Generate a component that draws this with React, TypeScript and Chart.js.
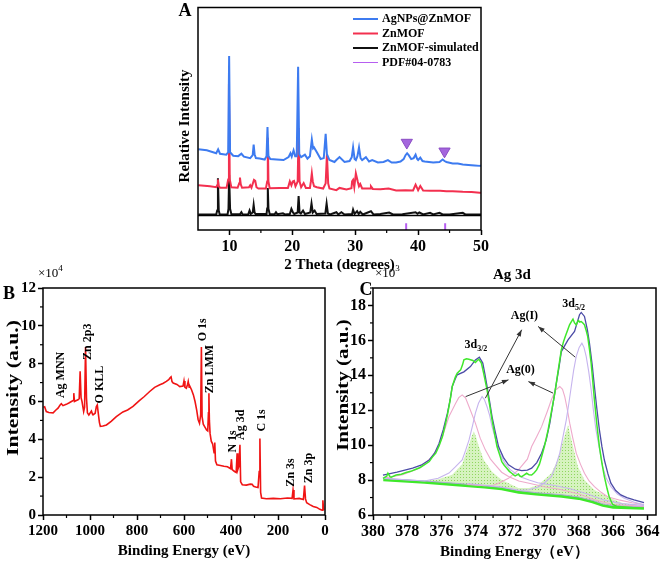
import React, { useEffect, useRef } from 'react';
import { Chart, registerables } from 'chart.js';

Chart.register(...registerables);

const SERIF = "'Liberation Serif', 'Times New Roman', serif";
type P = [number, number];

// ---------------- Panel A : XRD ----------------
const xrdTicks = [10, 20, 30, 40, 50];
const xrdMinorTicks = [15, 25, 35, 45];
const xrdLabels = ['AgNPs@ZnMOF', 'ZnMOF', 'ZnMOF-simulated', 'PDF#04-0783'];
const agZnMof: P[] = [
  [5.05, 83], [6.4, 82], [7.9, 79], [8.2, 83], [8.5, 78.5], [9.5, 77.5], [9.8, 80], [9.95, 179], [10.1, 80],
  [10.6, 76.5], [11.4, 76], [11.9, 78.5], [12.3, 75.5], [13.3, 74], [13.7, 77], [13.85, 88], [14.0, 78],
  [14.2, 74], [14.8, 73.5], [15.6, 72.5], [15.9, 76], [16.05, 106], [16.2, 76], [16.5, 73], [17.5, 72.5],
  [18.6, 72], [19.4, 75], [19.7, 79], [19.9, 75.5], [20.2, 82], [20.45, 76], [20.7, 76], [20.92, 168],
  [21.1, 78], [21.4, 75], [22.0, 77.5], [22.4, 73.5], [22.8, 76], [23.1, 93], [23.3, 84], [23.45, 85],
  [23.9, 80], [24.5, 73], [25.0, 74], [25.3, 99], [25.5, 78], [25.9, 72], [26.7, 70], [27.0, 72], [27.5, 75],
  [28.3, 70], [29.1, 71], [29.45, 75], [29.66, 85], [29.9, 73], [30.1, 72], [30.35, 76], [30.6, 85],
  [30.85, 74], [31.1, 72], [31.7, 75], [32.2, 70.5], [32.7, 72], [33.6, 69.5], [34.5, 70], [35.2, 72],
  [35.8, 69.5], [36.5, 69.5], [37.2, 70.5], [37.7, 73], [38.0, 77], [38.25, 79], [38.5, 77], [38.9, 73],
  [39.3, 74], [39.6, 77.5], [39.85, 73], [40.0, 72], [40.35, 74.5], [40.7, 71], [41.05, 70.5], [42.4, 69.5],
  [43.4, 70], [43.9, 72.5], [44.2, 71], [44.5, 70], [45.5, 68.5], [46.3, 68.5], [47.1, 67.5], [48.0, 67],
  [49.0, 66.5], [49.8, 66], [50, 66],
];
const znMof: P[] = [
  [5.05, 46], [6.0, 45.5], [6.9, 45], [7.9, 44], [8.05, 46], [8.17, 52], [8.3, 45], [8.5, 43.5], [9.55, 43.5],
  [9.8, 52], [9.92, 150], [10.05, 52], [10.3, 44], [11.3, 43.5], [11.55, 48], [11.67, 54], [11.8, 47],
  [12.0, 43.5], [13.1, 44], [13.3, 46], [13.5, 43.5], [13.9, 51.5], [14.1, 50.5], [14.3, 44], [14.6, 42.7],
  [15.8, 42.7], [16.0, 50], [16.1, 95], [16.2, 50], [16.4, 43], [18.0, 43.3], [19.3, 43.3], [19.6, 50],
  [19.85, 46], [20.06, 50], [20.27, 50.5], [20.5, 45], [20.85, 50], [21.0, 105], [21.15, 50], [21.4, 44],
  [21.8, 48.3], [22.15, 43.3], [22.8, 43.3], [22.95, 50], [23.1, 58.3], [23.25, 50], [23.45, 45], [23.9, 44],
  [24.9, 42.7], [25.3, 48], [25.5, 78], [25.7, 48], [25.9, 42.7], [27.0, 41], [27.5, 43.3], [28.6, 41.7],
  [29.4, 43], [29.5, 50], [29.66, 51.5], [29.85, 44], [30.1, 58.3], [30.4, 50], [30.6, 45], [30.8, 47.3],
  [31.1, 42.7], [32.4, 42.7], [32.5, 45], [32.8, 42.3], [34.0, 42], [35.3, 42.7], [36.5, 40.7], [38.0, 41],
  [39.2, 40.7], [39.6, 46.7], [40.0, 41], [40.35, 45.3], [40.8, 40.7], [42.0, 40.5], [43.5, 40.5], [44.5, 40],
  [45.5, 40], [47.1, 39.3], [48.5, 39], [49.8, 38.3], [50, 38.3],
];
const znMofSimulated: P[] = [
  [5.05, 16], [7.9, 16], [8.05, 20], [8.17, 53.3], [8.3, 20], [8.45, 16], [9.7, 16], [9.85, 22], [9.95, 56.7],
  [10.1, 22], [10.3, 16.5], [11.7, 16.3], [11.9, 18.3], [12.1, 16], [13.0, 16.3], [13.2, 20], [13.4, 16.5],
  [13.7, 18], [13.85, 26], [14.0, 18], [14.15, 16.5], [15.9, 16.5], [16.0, 22], [16.1, 43.3], [16.2, 22],
  [16.4, 16.5], [17.2, 16.3], [17.4, 18.3], [17.6, 16.3], [18.5, 17.3], [18.8, 16], [19.6, 16.5],
  [19.85, 21.7], [20.1, 18], [20.3, 16.5], [20.85, 18], [21.0, 35], [21.15, 18], [21.35, 17], [21.7, 20],
  [22.0, 16.5], [22.85, 18], [23.05, 27.3], [23.25, 18], [23.55, 20], [23.85, 16.5], [25.25, 17],
  [25.45, 27.3], [25.65, 17], [26.0, 16], [27.0, 18.3], [27.3, 16], [27.8, 18.3], [28.3, 16], [29.5, 16.5],
  [29.66, 21], [29.9, 16.5], [30.3, 19.3], [30.55, 16.5], [30.8, 18.7], [31.2, 16], [32.5, 19.3], [32.9, 16],
  [34.0, 16.5], [35.4, 18], [36.0, 16], [37.5, 16.3], [39.6, 18.3], [39.9, 16.8], [40.2, 18], [40.8, 16],
  [41.9, 17.7], [42.4, 16], [43.4, 17.7], [43.9, 16], [45.0, 16], [47.1, 17.7], [47.5, 16], [49.8, 16], [50, 16],
];
const pdfPeaks = [38.1, 44.3];
const pdfHeight = 7;
const agMarkers: P[] = [[38.2, 90], [44.2, 81]];
const stackDivider = 15;

// ---------------- Panel B : XPS survey ----------------
const surveyXTicks = [0, 200, 400, 600, 800, 1000, 1200];
const surveyXMinor = [100, 300, 500, 700, 900, 1100];
const surveyYTicks = [0, 2, 4, 6, 8, 10, 12];
const surveyYMinor = [1, 3, 5, 7, 9, 11];
const survey: P[] = [
  [1198, 5.7], [1193, 5.72], [1186, 5.47], [1175, 5.42], [1157, 5.4], [1145, 5.55], [1136, 5.65], [1128, 5.8],
  [1122, 5.88], [1115, 5.78], [1101, 5.85], [1090, 5.92], [1079, 6.0], [1072, 6.05], [1069, 6.44], [1066, 6.0],
  [1058, 6.05], [1051, 6.09], [1046, 6.15], [1042, 7.6], [1038, 6.2], [1034, 6.0], [1027, 5.47], [1023, 5.7],
  [1019, 8.88], [1015, 6.2], [1011, 5.4], [1005, 5.29], [994, 5.5], [990, 5.35], [987, 5.29], [978, 5.38],
  [973, 5.74], [969, 5.82], [965, 5.4], [960, 4.9], [956, 4.68], [945, 4.7], [930, 4.76], [910, 4.95],
  [888, 5.2], [860, 5.45], [840, 5.55], [817, 5.74], [790, 6.05], [770, 6.25], [746, 6.53], [725, 6.75],
  [703, 6.88], [690, 6.95], [675, 7.06], [665, 7.15], [660, 7.24], [655, 7.3], [651, 7.05], [646, 6.98],
  [630, 6.9], [618, 6.79], [604, 6.82], [600, 7.09], [596, 6.75], [590, 6.7], [585, 6.9], [582, 7.06],
  [578, 6.75], [575, 6.8], [568, 6.62], [560, 6.35], [553, 6.0], [546, 5.55], [540, 5.05], [534, 4.85],
  [529, 5.3], [526, 8.88], [523, 5.2], [518, 4.8], [511, 4.65], [504, 4.5], [499, 4.45], [496, 5.4],
  [494, 6.44], [492, 5.0], [489, 4.3], [484, 3.9], [478, 3.75], [472, 3.3], [469, 3.83], [466, 2.85],
  [460, 2.65], [445, 2.62], [430, 2.58], [415, 2.55], [402, 2.45], [398, 2.95], [395, 2.4], [385, 2.3],
  [378, 2.25], [374, 3.26], [371, 2.4], [366, 2.6], [362, 3.71], [359, 1.75], [352, 1.6], [335, 1.58],
  [318, 1.63], [310, 1.62], [304, 1.52], [295, 1.48], [285, 1.45], [280, 2.3], [277, 4.05], [274, 1.2],
  [270, 0.9], [250, 0.86], [220, 0.88], [190, 0.86], [160, 0.9], [140, 0.88], [136, 1.32], [132, 0.85],
  [110, 0.88], [92, 0.82], [87, 1.55], [83, 0.85], [78, 0.65], [65, 0.55], [50, 0.45], [35, 0.4],
  [22, 0.3], [12, 0.25], [9, 0.78], [6, 0.3], [3, 0.32],
];
const surveyPeakNames = ['Ag MNN', 'Zn 2p3', 'O KLL', 'O 1s', 'Zn LMM', 'N 1s', 'Ag 3d', 'C 1s', 'Zn 3s', 'Zn 3p'];

// ---------------- Panel C : Ag 3d ----------------
const ag3dXTicks = [364, 366, 368, 370, 372, 374, 376, 378, 380];
const ag3dXMinor = [365, 367, 369, 371, 373, 375, 377, 379];
const ag3dYTicks = [6, 8, 10, 12, 14, 16, 18];
const ag3dYMinor = [7, 9, 11, 13, 15, 17, 19];
const ag3dEnvelope: P[] = [
  [379.42, 8.29], [378.6, 8.45], [377.69, 8.68], [377.2, 8.85], [376.72, 9.15], [376.4, 9.55], [376.15, 10.1],
  [375.9, 10.9], [375.66, 11.83], [375.5, 12.6], [375.38, 13.36], [375.2, 13.8], [375.09, 14.03], [374.7, 14.2],
  [374.32, 14.5], [374.03, 14.88], [373.8, 15.04], [373.6, 14.7], [373.48, 14.1], [373.35, 13.36], [373.2, 12.5],
  [373.06, 11.64], [372.87, 10.75], [372.68, 9.92], [372.4, 9.3], [372.1, 8.87], [371.7, 8.62], [371.33, 8.54],
  [371.0, 8.57], [370.75, 8.68], [370.45, 9.0], [370.17, 9.54], [369.9, 10.3], [369.69, 11.26], [369.5, 12.4],
  [369.31, 13.55], [369.15, 14.5], [369.02, 15.36], [368.63, 16.03], [368.25, 16.51], [368.1, 17.0],
  [367.96, 17.47], [367.86, 17.6], [367.67, 17.37], [367.5, 16.6], [367.38, 15.84], [367.22, 14.6],
  [367.09, 13.36], [366.95, 12.1], [366.8, 10.87], [366.65, 9.9], [366.51, 9.15], [366.3, 8.35], [366.13, 7.82],
  [365.85, 7.4], [365.55, 7.15], [365.2, 7.0], [364.78, 6.86], [364.2, 6.71],
];
const ag3dRaw: P[] = [
  [379.42, 8.1], [379.2, 8.22], [379.13, 8.39], [379.0, 8.18], [378.94, 8.16], [378.65, 8.29], [378.35, 8.33],
  [378.07, 8.43], [377.8, 8.5], [377.5, 8.62], [377.25, 8.72], [377.01, 8.87], [376.72, 9.06], [376.55, 9.3],
  [376.34, 9.54], [376.15, 9.95], [375.95, 10.49], [375.8, 11.1], [375.66, 11.73], [375.5, 12.6], [375.38, 13.36],
  [375.2, 13.9], [375.09, 14.12], [374.89, 14.31], [374.78, 14.6], [374.7, 14.89], [374.55, 14.95],
  [374.41, 14.92], [374.18, 14.85], [374.03, 14.73], [373.92, 14.85], [373.83, 14.92], [373.68, 14.7],
  [373.55, 14.12], [373.35, 13.17], [373.2, 12.3], [373.06, 11.45], [372.9, 10.6], [372.77, 9.92], [372.6, 9.4],
  [372.49, 9.06], [372.35, 8.85], [372.2, 8.68], [372.05, 8.5], [371.91, 8.39], [371.8, 8.3], [371.71, 8.24],
  [371.6, 8.3], [371.52, 8.35], [371.42, 8.22], [371.33, 8.2], [371.2, 8.28], [371.04, 8.39], [370.9, 8.3],
  [370.75, 8.29], [370.6, 8.42], [370.46, 8.58], [370.3, 8.9], [370.17, 9.34], [370.0, 9.95], [369.79, 10.87],
  [369.6, 11.9], [369.4, 12.97], [369.2, 14.3], [369.02, 15.46], [368.9, 15.9], [368.79, 16.22], [368.65, 16.6],
  [368.54, 16.89], [368.45, 17.05], [368.34, 17.22], [368.25, 17.0], [368.15, 16.89], [368.08, 17.05],
  [368.02, 17.14], [367.95, 17.05], [367.86, 17.08], [367.75, 16.98], [367.67, 16.89], [367.58, 16.6],
  [367.48, 16.22], [367.38, 15.5], [367.28, 14.69], [367.18, 13.6], [367.09, 12.59], [366.95, 11.2],
  [366.8, 9.92], [366.65, 8.95], [366.51, 8.2], [366.35, 7.5], [366.22, 7.01], [366.03, 6.6], [365.8, 6.5],
  [365.2, 6.45], [364.6, 6.4], [364.2, 6.38],
];
const ag0d32: P[] = [
  [379.4, 8.1], [378.27, 8.3], [377.3, 8.68], [376.53, 9.35], [376.2, 9.9], [375.95, 10.5], [375.57, 11.64],
  [375.18, 12.4], [375.0, 12.72], [374.8, 12.88], [374.6, 12.7], [374.4, 12.2], [374.03, 11.26], [373.75, 10.4],
  [373.45, 9.73], [373.15, 9.2], [372.87, 8.87], [372.5, 8.45], [372.1, 8.2], [371.5, 7.95], [370.9, 7.82],
  [370.0, 7.62], [369.0, 7.45], [368.0, 7.2], [367.0, 6.85], [366.0, 6.6], [364.2, 6.5],
];
const ag0d52: P[] = [
  [374.5, 7.75], [373.5, 7.68], [373.0, 7.7], [372.68, 7.82], [372.1, 8.1], [371.52, 8.58], [371.0, 9.2],
  [370.75, 9.92], [370.45, 10.5], [370.17, 11.06], [369.85, 11.9], [369.6, 12.6], [369.35, 13.15],
  [369.11, 13.36], [368.95, 13.2], [368.82, 12.78], [368.68, 12.1], [368.53, 11.26], [368.35, 10.4],
  [368.15, 9.54], [367.9, 8.9], [367.67, 8.39], [367.4, 7.95], [367.09, 7.62], [366.7, 7.3], [366.32, 7.05],
  [365.6, 6.85], [364.9, 6.7], [364.2, 6.6],
];
const agId32: P[] = [
  [379.4, 8.1], [377.0, 7.95], [376.2, 8.1], [375.57, 8.4], [375.2, 8.75], [374.8, 9.15], [374.6, 9.7],
  [374.4, 10.3], [374.2, 11.1], [374.03, 11.83], [373.85, 12.4], [373.64, 12.78], [373.5, 12.6], [373.35, 12.2],
  [373.2, 11.7], [373.06, 11.06], [372.87, 10.4], [372.68, 9.73], [372.5, 9.3], [372.3, 8.96], [372.0, 8.6],
  [371.7, 8.39], [371.3, 8.15], [370.9, 8.0], [370.4, 7.85], [369.5, 7.7], [368.5, 7.5], [367.5, 7.2],
  [366.5, 6.85], [365.5, 6.65], [364.2, 6.55],
];
const agId52: P[] = [
  [374.5, 7.8], [372.5, 7.6], [371.5, 7.42], [370.9, 7.45], [370.37, 7.6], [370.0, 7.85], [369.6, 8.2],
  [369.35, 8.8], [369.11, 9.54], [368.92, 10.5], [368.73, 11.45], [368.58, 12.4], [368.44, 13.36], [368.3, 14.3],
  [368.15, 15.08], [367.98, 15.6], [367.82, 15.84], [367.7, 15.6], [367.57, 15.08], [367.42, 14.2],
  [367.28, 13.17], [367.15, 12.0], [367.0, 10.87], [366.8, 9.8], [366.61, 8.77], [366.4, 8.1], [366.13, 7.62],
  [365.75, 7.2], [365.35, 6.96], [364.8, 6.75], [364.2, 6.57],
];
const ag3dBackground: P[] = [
  [379.4, 8.02], [377.0, 7.87], [375.0, 7.72], [373.5, 7.6], [372.5, 7.5], [371.5, 7.3], [370.5, 7.2],
  [369.0, 7.08], [368.0, 6.95], [367.2, 6.75], [366.6, 6.55], [366.0, 6.45], [364.2, 6.38],
];
const ag3dFitBackground: P[] = [
  [379.4, 8.1], [377.0, 7.95], [375.0, 7.8], [373.5, 7.68], [372.5, 7.58], [371.5, 7.4], [370.5, 7.28],
  [369.0, 7.16], [368.0, 7.03], [367.2, 6.84], [366.6, 6.64], [366.0, 6.54], [364.2, 6.47],
];
const ag3dOverlap: P[] = [
  [379.4, 8.1], [378.0, 8.0], [377.0, 7.95], [376.2, 8.05], [375.38, 8.3], [374.8, 8.9], [374.6, 9.5],
  [374.41, 10.0], [374.25, 10.5], [374.12, 10.8], [374.0, 10.5], [373.83, 9.92], [373.54, 9.15], [373.06, 8.48],
  [372.49, 8.0], [371.52, 7.55], [370.9, 7.55], [370.37, 7.72], [369.6, 8.39], [369.3, 9.0], [369.11, 9.54],
  [368.9, 10.3], [368.63, 11.16], [368.5, 10.6], [368.34, 9.92], [368.05, 8.77], [367.67, 8.0], [367.09, 7.43],
  [366.32, 7.05], [365.5, 6.7], [364.2, 6.45],
];

// ---------------- drawing helpers ----------------
type TextItem = {
  text: string; x: number; y: number; data?: boolean; size?: number; bold?: boolean; stretch?: number;
  align?: 'left' | 'center' | 'right'; rotate?: number; sub?: string; sup?: string; color?: string;
};
type Decor = {
  frame?: boolean; hlines?: number[]; minorX?: number[]; minorY?: number[]; minorLen?: number;
  texts?: TextItem[]; arrows?: { from: P; to: P }[];
  legend?: { label: string; color: string; width: number; y: number }[];
};

function drawText(ctx: CanvasRenderingContext2D, chart: any, it: TextItem) {
  let x = it.x;
  let y = it.y;
  if (it.data) {
    x = chart.scales.x.getPixelForValue(it.x);
    y = chart.scales.y.getPixelForValue(it.y);
  }
  const size = it.size || 12;
  const mainFont = `${it.bold === false ? '' : 'bold '}${size}px ${SERIF}`;
  const smallFont = `${it.bold === false ? '' : 'bold '}${Math.round(size * 0.7)}px ${SERIF}`;
  ctx.save();
  ctx.translate(x, y);
  if (it.rotate) ctx.rotate(it.rotate);
  if (it.stretch) ctx.scale(it.stretch, 1);
  ctx.fillStyle = it.color || '#000';
  ctx.textBaseline = 'middle';
  ctx.textAlign = 'left';
  ctx.font = mainFont;
  const mw = ctx.measureText(it.text).width;
  ctx.font = smallFont;
  const extra = it.sub ? ctx.measureText(it.sub).width : it.sup ? ctx.measureText(it.sup).width : 0;
  const total = mw + extra;
  const start = it.align === 'center' ? -total / 2 : it.align === 'right' ? -total : 0;
  ctx.font = mainFont;
  ctx.fillText(it.text, start, 0);
  ctx.font = smallFont;
  if (it.sub) ctx.fillText(it.sub, start + mw, size * 0.32);
  if (it.sup) ctx.fillText(it.sup, start + mw, -size * 0.38);
  ctx.restore();
}

function decorPlugin(d: Decor) {
  return {
    id: 'decor',
    afterDraw(chart: any) {
      const ctx: CanvasRenderingContext2D = chart.ctx;
      const { left, right, top, bottom } = chart.chartArea;
      const xs = chart.scales.x;
      const ys = chart.scales.y;
      ctx.save();
      ctx.strokeStyle = '#000';
      ctx.lineWidth = 1.5;
      if (d.frame) ctx.strokeRect(left, top, right - left, bottom - top);
      (d.hlines || []).forEach((v) => {
        const py = Math.round(ys.getPixelForValue(v)) + 0.5;
        ctx.beginPath();
        ctx.moveTo(left, py);
        ctx.lineTo(right, py);
        ctx.stroke();
      });
      const ml = d.minorLen || 3;
      ctx.lineWidth = 1.2;
      (d.minorX || []).forEach((v) => {
        const px = xs.getPixelForValue(v);
        ctx.beginPath();
        ctx.moveTo(px, bottom);
        ctx.lineTo(px, bottom + ml);
        ctx.stroke();
      });
      (d.minorY || []).forEach((v) => {
        const py = ys.getPixelForValue(v);
        ctx.beginPath();
        ctx.moveTo(left, py);
        ctx.lineTo(left - ml, py);
        ctx.stroke();
      });
      (d.arrows || []).forEach((a) => {
        const x1 = xs.getPixelForValue(a.from[0]);
        const y1 = ys.getPixelForValue(a.from[1]);
        const x2 = xs.getPixelForValue(a.to[0]);
        const y2 = ys.getPixelForValue(a.to[1]);
        ctx.strokeStyle = '#333';
        ctx.fillStyle = '#333';
        ctx.lineWidth = 1;
        ctx.beginPath();
        ctx.moveTo(x1, y1);
        ctx.lineTo(x2, y2);
        ctx.stroke();
        const ang = Math.atan2(y2 - y1, x2 - x1);
        const h = 7;
        ctx.beginPath();
        ctx.moveTo(x2, y2);
        ctx.lineTo(x2 - h * Math.cos(ang - 0.35), y2 - h * Math.sin(ang - 0.35));
        ctx.lineTo(x2 - h * Math.cos(ang + 0.35), y2 - h * Math.sin(ang + 0.35));
        ctx.closePath();
        ctx.fill();
      });
      (d.legend || []).forEach((l) => {
        ctx.strokeStyle = l.color;
        ctx.lineWidth = l.width;
        ctx.beginPath();
        ctx.moveTo(353, l.y);
        ctx.lineTo(378, l.y);
        ctx.stroke();
        drawText(ctx, chart, { text: l.label, x: 382, y: l.y, size: 12 });
      });
      (d.texts || []).forEach((t) => drawText(ctx, chart, t));
      ctx.restore();
    },
  };
}

const boldFont = (size: number) => ({ family: SERIF, size, weight: 'bold' as const });

function xAxis(min: number, max: number, ticks: number[], o: any) {
  return {
    type: 'linear', min, max, reverse: !!o.reverse,
    afterBuildTicks: (s: any) => { s.ticks = ticks.map((v) => ({ value: v })); },
    afterFit: (s: any) => { s.height = o.height; s.paddingLeft = 0; s.paddingRight = 0; },
    ticks: {
      color: '#000', font: boldFont(o.fontSize), padding: 2, maxRotation: 0, autoSkip: false,
      callback: (v: any) => String(v),
    },
    grid: { display: true, drawOnChartArea: false, drawTicks: true, tickLength: 5, tickColor: '#000', tickWidth: 1.5 },
    border: { display: false },
    title: {
      display: true, text: o.title, color: '#000', font: boldFont(o.titleSize),
      padding: { top: 0, bottom: o.titlePad },
    },
  };
}

function yAxis(min: number, max: number, ticks: number[], o: any) {
  return {
    type: 'linear', min, max,
    afterBuildTicks: (s: any) => { s.ticks = ticks.map((v) => ({ value: v })); },
    afterFit: (s: any) => { s.width = o.width; s.paddingTop = 0; s.paddingBottom = 0; },
    ticks: {
      display: !!o.showTicks, color: '#000', font: boldFont(o.fontSize || 15), padding: 2,
      callback: (v: any) => String(v),
    },
    grid: {
      display: !!o.showTicks, drawOnChartArea: false, drawTicks: true, tickLength: 5,
      tickColor: '#000', tickWidth: 1.5,
    },
    border: { display: false },
    title: { display: false },
  };
}

const line = (label: string, pts: P[], color: string, width: number, extra: any = {}) => ({
  label,
  data: pts.map(([x, y]) => ({ x, y })),
  borderColor: color,
  backgroundColor: color,
  borderWidth: width,
  pointRadius: 0,
  tension: 0,
  fill: false,
  ...extra,
});

const baseOptions = (padding: any) => ({
  responsive: false,
  animation: false as const,
  devicePixelRatio: 1,
  events: [] as any[],
  layout: { padding },
  plugins: { legend: { display: false }, tooltip: { enabled: false } },
});

const XRD_BLUE = '#3d7bf0';
const XRD_RED = '#f3304f';
const XRD_BLACK = '#111111';
const XRD_PDF = '#b65ef0';

function configA(): any {
  return {
    type: 'line',
    data: {
      datasets: [
        line('Ag markers', agMarkers, '#a466dd', 0, {
          showLine: false, pointRadius: 6.5, pointStyle: 'triangle', rotation: 180,
          pointBackgroundColor: '#a466dd', pointBorderColor: '#8a4cc4', pointBorderWidth: 1,
        }),
        line(xrdLabels[0], agZnMof, XRD_BLUE, 2),
        line(xrdLabels[1], znMof, XRD_RED, 2),
        line(xrdLabels[2], znMofSimulated, XRD_BLACK, 2),
        {
          label: xrdLabels[3],
          data: pdfPeaks.flatMap((p) => [{ x: p, y: 0 }, { x: p, y: pdfHeight }, { x: p, y: null }]),
          borderColor: XRD_PDF, borderWidth: 2, pointRadius: 0, spanGaps: false, fill: false,
        },
      ],
    },
    options: {
      ...baseOptions({ left: 170, top: 1, right: 180, bottom: 0 }),
      scales: {
        x: xAxis(5, 50, xrdTicks, { height: 45, fontSize: 16, title: '2 Theta (degrees)', titleSize: 15, titlePad: 1 }),
        y: yAxis(0, 229, [], { width: 28 }),
      },
    },
    plugins: [
      decorPlugin({
        frame: true,
        hlines: [stackDivider],
        minorX: xrdMinorTicks,
        minorLen: 3,
        legend: [
          { label: xrdLabels[0], color: XRD_BLUE, width: 2, y: 19 },
          { label: xrdLabels[1], color: XRD_RED, width: 2, y: 33.5 },
          { label: xrdLabels[2], color: XRD_BLACK, width: 2, y: 48 },
          { label: xrdLabels[3], color: XRD_PDF, width: 1, y: 62.5 },
        ],
        texts: [
          { text: 'A', x: 185, y: 11, size: 18, align: 'center' },
          { text: 'Relative Intensity', x: 185, y: 126, size: 15, align: 'center', rotate: -Math.PI / 2 },
        ],
      }),
    ],
  };
}

function configB(): any {
  const anchors: P[] = [
    [1122, 6.18], [1008, 8.2], [959, 5.9], [518, 9.18], [490, 6.44],
    [391, 3.3], [359, 3.97], [267, 4.41], [146, 1.5], [67, 1.68],
  ];
  return {
    type: 'line',
    data: { datasets: [line('Survey', survey, '#f01414', 1.6)] },
    options: {
      ...baseOptions({ left: 0, top: 28, right: 5, bottom: 0 }),
      scales: {
        x: xAxis(0, 1200, surveyXTicks, {
          reverse: true, height: 47, fontSize: 15, title: 'Binding Energy (eV)', titleSize: 15, titlePad: 2,
        }),
        y: yAxis(0, 12, surveyYTicks, { width: 43, showTicks: true, fontSize: 15 }),
      },
    },
    plugins: [
      decorPlugin({
        frame: true,
        minorX: surveyXMinor,
        minorY: surveyYMinor,
        minorLen: 3,
        texts: [
          { text: 'B', x: 9, y: 34, size: 18, align: 'center' },
          { text: '×10', sup: '4', x: 38, y: 14, size: 13, bold: false },
          { text: 'Intensity (a.u.)', x: 14, y: 128, size: 17, stretch: 1.28, align: 'center', rotate: -Math.PI / 2 },
          ...surveyPeakNames.map((n, i) => ({
            text: n, x: anchors[i][0], y: anchors[i][1], data: true, size: 12, rotate: -Math.PI / 2,
          })),
        ],
      }),
    ],
  };
}

function configC(canvas: HTMLCanvasElement): any {
  const pc = document.createElement('canvas');
  pc.width = 3;
  pc.height = 3;
  const pctx = pc.getContext('2d')!;
  pctx.fillStyle = '#d6f3bf';
  pctx.fillRect(0, 0, 3, 3);
  pctx.fillStyle = '#8fd65f';
  pctx.fillRect(1, 1, 1, 1);
  const pattern = canvas.getContext('2d')!.createPattern(pc, 'repeat');
  const PINK = '#eeaacb';
  const LAV = '#c6b4ee';
  return {
    type: 'line',
    data: {
      datasets: [
        line('Raw', ag3dRaw, '#3fe82b', 1.5),
        line('Envelope', ag3dEnvelope, '#4b4ba6', 1.3),
        line('Ag(I) 3d3/2', agId32, LAV, 1.1),
        line('Ag(I) 3d5/2', agId52, LAV, 1.1),
        line('Ag(0) 3d3/2', ag0d32, PINK, 1.1),
        line('Ag(0) 3d5/2', ag0d52, PINK, 1.1),
        line('Fit background', ag3dFitBackground, '#b3a6dc', 1),
        line('Background', ag3dBackground, '#3fe82b', 3),
        line('Overlap', ag3dOverlap, 'rgba(0,0,0,0)', 0, { backgroundColor: pattern, fill: { target: 7 } }),
      ],
    },
    options: {
      ...baseOptions({ left: 0, top: 28, right: 5, bottom: 0 }),
      scales: {
        x: xAxis(363.5, 380, ag3dXTicks, {
          reverse: true, height: 47, fontSize: 16, title: 'Binding Energy（eV）', titleSize: 15, titlePad: 1,
        }),
        y: yAxis(6, 19, ag3dYTicks, { width: 43, showTicks: true, fontSize: 16 }),
      },
    },
    plugins: [
      decorPlugin({
        frame: true,
        minorX: ag3dXMinor,
        minorY: ag3dYMinor,
        minorLen: 3,
        arrows: [
          { from: [373.45, 12.69], to: [371.33, 16.61] },
          { from: [368.21, 15.04], to: [370.37, 16.8] },
          { from: [374.6, 12.78], to: [372.1, 13.74] },
          { from: [369.5, 12.98], to: [370.94, 13.64] },
        ],
        texts: [
          { text: 'C', x: 36, y: 30, size: 18, align: 'center' },
          { text: '×10', sup: '3', x: 45, y: 14, size: 13, bold: false },
          { text: 'Ag 3d', x: 182, y: 15, size: 15, align: 'center' },
          { text: 'Intensity (a.u.)', x: 13.5, y: 125, size: 17, stretch: 1.24, align: 'center', rotate: -Math.PI / 2 },
          { text: '3d', sub: '3/2', x: 374.0, y: 15.75, data: true, size: 12, align: 'center' },
          { text: '3d', sub: '5/2', x: 368.3, y: 18.1, data: true, size: 12, align: 'center' },
          { text: 'Ag(I)', x: 371.17, y: 17.41, data: true, size: 12, align: 'center' },
          { text: 'Ag(0)', x: 371.4, y: 14.31, data: true, size: 12, align: 'center' },
        ],
      }),
    ],
  };
}

export default function App() {
  const refA = useRef<HTMLCanvasElement>(null);
  const refB = useRef<HTMLCanvasElement>(null);
  const refC = useRef<HTMLCanvasElement>(null);

  useEffect(() => {
    const charts = [
      new Chart(refA.current!, configA()),
      new Chart(refB.current!, configB()),
      new Chart(refC.current!, configC(refC.current!)),
    ];
    return () => charts.forEach((c) => c.destroy());
  }, []);

  return (
    <div style={{ position: 'absolute', left: 0, top: 0, width: 661, height: 562, background: '#fff' }}>
      <canvas ref={refA} width={661} height={275} style={{ position: 'absolute', left: 0, top: 0, width: 661, height: 275 }} />
      <canvas ref={refB} width={330} height={302} style={{ position: 'absolute', left: 0, top: 260, width: 330, height: 302 }} />
      <canvas ref={refC} width={331} height={302} style={{ position: 'absolute', left: 330, top: 260, width: 331, height: 302 }} />
    </div>
  );
}
